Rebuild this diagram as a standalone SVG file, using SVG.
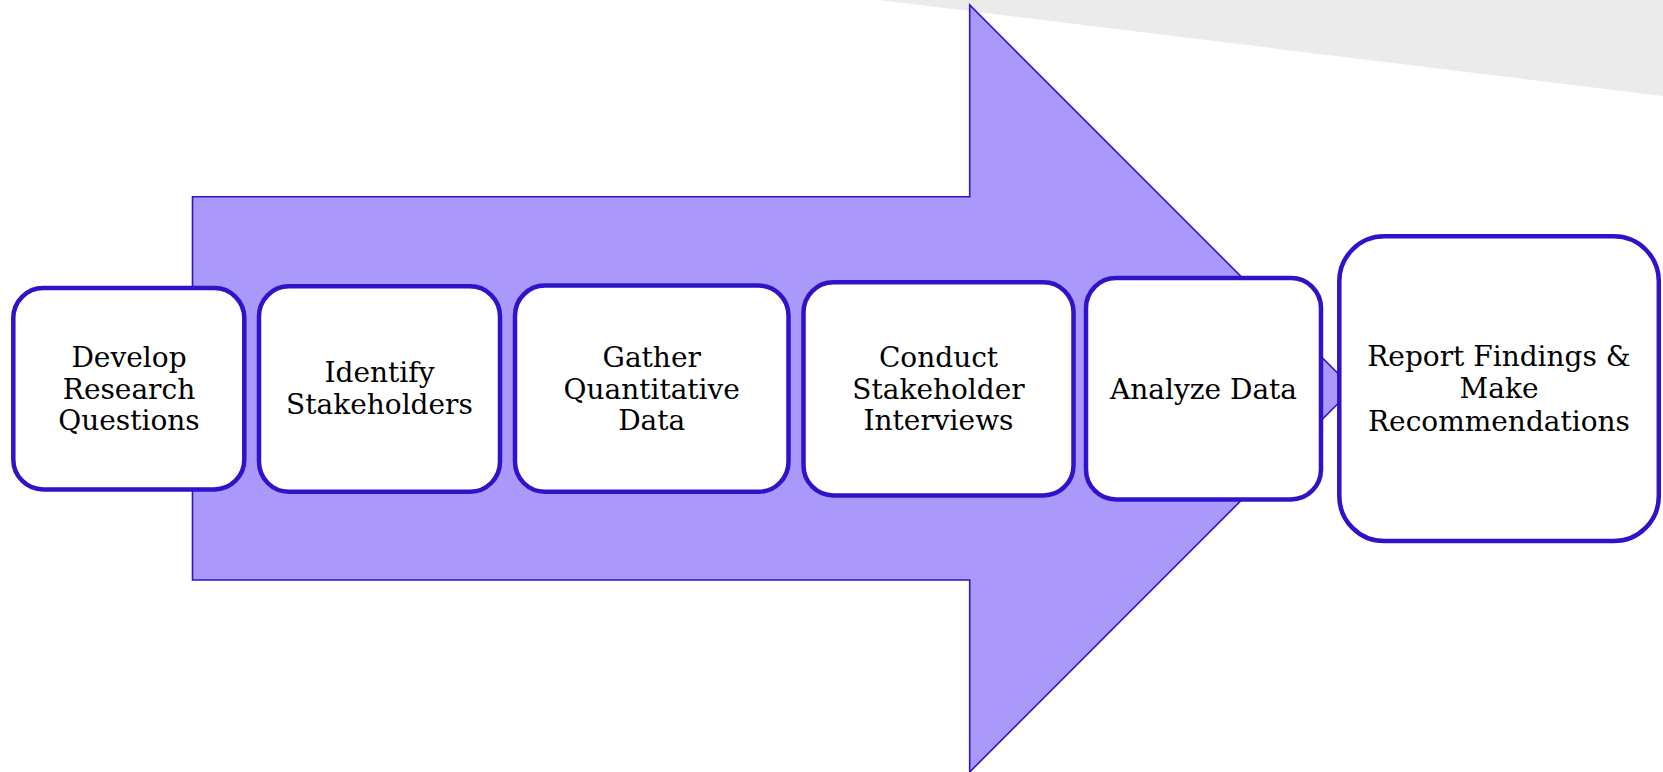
<svg xmlns="http://www.w3.org/2000/svg" width="1663" height="772" viewBox="0 0 1663 772">
  <style>
    .step { fill: #ffffff; stroke: #2d14c8; stroke-width: 4.5; }
    .label { font-family: "DejaVu Serif", "Liberation Serif", serif; font-size: 28px; fill: #000000; text-anchor: middle; }
  </style>
  <rect width="1663" height="772" fill="#ffffff"/>
  <!-- grey backdrop wedge in the top-right corner -->
  <polygon id="backdrop" points="879,0 1663,0 1663,96" fill="#ebebeb"/>
  <!-- large process arrow behind the steps -->
  <g id="connectors">
    <polygon id="process-arrow" points="192.5,196.7 969.7,196.7 969.7,5 1353,388.5 969.7,772 969.7,580 192.5,580" fill="#aa98fa" stroke="#2d14c8" stroke-width="1.6" stroke-linejoin="miter"/>
  </g>
  <g id="step1">
    <rect class="step" x="13.3" y="288" width="231" height="201.5" rx="30"/>
    <text class="label" x="129" y="366.7">Develop</text>
    <text class="label" x="129" y="398.5">Research</text>
    <text class="label" x="129" y="430.3">Questions</text>
  </g>
  <g id="step2">
    <rect class="step" x="259" y="286.3" width="241" height="205.5" rx="30"/>
    <text class="label" x="379.5" y="381.7">Identify</text>
    <text class="label" x="379.5" y="414">Stakeholders</text>
  </g>
  <g id="step3">
    <rect class="step" x="515" y="285.5" width="273.5" height="206.3" rx="30"/>
    <text class="label" x="651.7" y="366.7">Gather</text>
    <text class="label" x="651.7" y="398.5">Quantitative</text>
    <text class="label" x="651.7" y="430.3">Data</text>
  </g>
  <g id="step4">
    <rect class="step" x="803.5" y="282.3" width="270" height="213.2" rx="30"/>
    <text class="label" x="938.5" y="366.7">Conduct</text>
    <text class="label" x="938.5" y="398.5">Stakeholder</text>
    <text class="label" x="938.5" y="430.3">Interviews</text>
  </g>
  <g id="step5">
    <rect class="step" x="1086" y="278" width="235" height="221.5" rx="30"/>
    <text class="label" x="1203.5" y="398.5">Analyze Data</text>
  </g>
  <g id="step6">
    <rect class="step" x="1339.3" y="236.3" width="319.5" height="304.8" rx="45"/>
    <text class="label" x="1499" y="365.7">Report Findings &amp;</text>
    <text class="label" x="1499" y="398.3">Make</text>
    <text class="label" x="1499" y="430.7">Recommendations</text>
  </g>
</svg>
